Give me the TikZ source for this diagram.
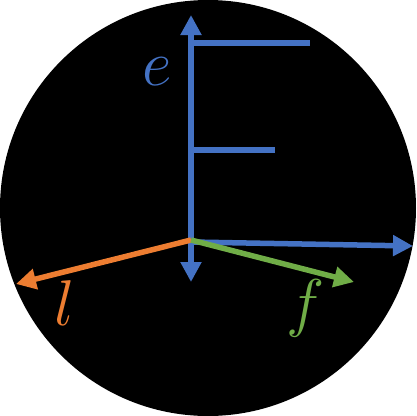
\documentclass[tikz,border=0pt]{standalone}
\usepackage{tikz}
\usetikzlibrary{arrows.meta,positioning}

\definecolor{eblue}{HTML}{4472C4}
\definecolor{lorange}{HTML}{ED7D31}
\definecolor{fgreen}{HTML}{70AD47}

\begin{document}
\begin{tikzpicture}[x=1pt, y=-1pt, line width=5.5pt, >={Triangle[length=20pt,width=20pt]}]
				\tikzset{axis/.style={->, shorten >=0pt}}
				\tikzset{lbl/.style={font=\Huge, scale=2.6, inner sep=0pt}}

				\fill[white] (0,0) rectangle (416,416);
				\useasboundingbox (0,0) rectangle (416,416);
				\fill[black] (208,208) circle (208);

				%PUNTOS
				\coordinate (o)  at (191,240);
				\coordinate (top) at (191,15);
				\coordinate (bot) at (191,282);
				\coordinate (bar1) at (191,43);
				\coordinate (bar1e) at (310,43);
				\coordinate (bar2) at (191,150);
				\coordinate (bar2e) at (275,150);
				\coordinate (ex) at (413,246);
				\coordinate (lx) at (16,284);
				\coordinate (fx) at (354,282);

				%EJES
				\draw[axis, eblue, <->] (bot) -- (top);
				\draw[eblue] (bar1) -- (bar1e);
				\draw[eblue] (bar2) -- (bar2e);
				\draw[axis, eblue] ([yshift=-2pt]o) -- (ex);
				\draw[axis, lorange] (o) -- (lx);
				\draw[axis, fgreen] (o) -- (fx);

				%ETIQUETAS
				\node[lbl, text=eblue]   (e) at (157,72)  {$e$};
				\node[lbl, text=lorange] (l) at (65,303)  {$l$};
				\node[lbl, text=fgreen]  (f) at (306,308) {$f$};
\end{tikzpicture}
\end{document}
